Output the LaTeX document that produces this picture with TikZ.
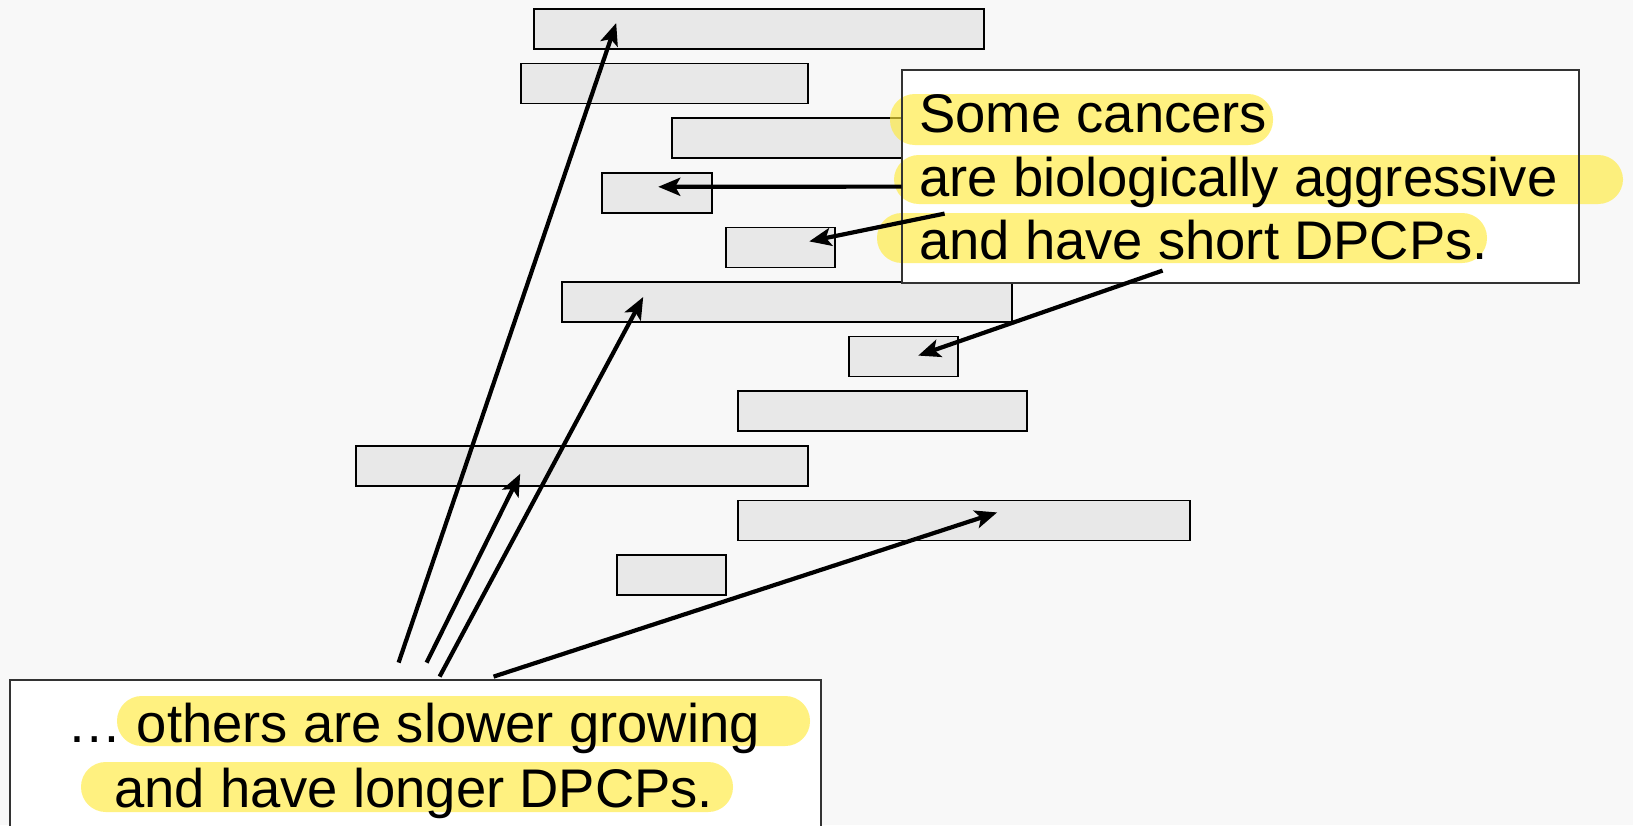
\documentclass[tikz,border=0pt]{standalone}
\usepackage{fontspec}
\setmainfont{Liberation Sans}
\usetikzlibrary{calc,arrows.meta}
\definecolor{bggray}{HTML}{F8F8F8}
\definecolor{barfill}{HTML}{E8E8E8}
\definecolor{hlyellow}{RGB}{255,235,60}
\newcommand\txtsize{\fontsize{27.2pt}{32pt}\selectfont}

\begin{document}
\begin{tikzpicture}[x=0.5pt, y=-0.5pt,
    bar/.style={draw, fill=barfill, line width=0.8pt, inner sep=0pt, minimum height=20pt},
    frame/.style={draw=black!80, line width=1pt},
    hl/.style={fill=hlyellow, opacity=0.65, rounded corners=12.4pt},
    txt/.style={font=\txtsize, anchor=base west, inner sep=0pt},
    arr/.style={-{Stealth[length=11pt, width=9pt, inset=2.5pt]}, line width=2.1pt}]
    \useasboundingbox (0,0) rectangle (1633,825);
    \clip (0,0) rectangle (1633,825);
    \fill[bggray] (0,0) rectangle (1633,825);

    \node[bar, minimum width=225pt] (b1) at (759, 29) {};
    \node[bar, minimum width=143.5pt] (b2) at (664.5, 83.6) {};
    \node[bar, minimum width=143.5pt] (b3) at (815.5, 138.2) {};
    \node[bar, minimum width=55pt] (b4) at (657, 192.8) {};
    \node[bar, minimum width=54.5pt] (b5) at (780.5, 247.4) {};
    \node[bar, minimum width=225pt] (b6) at (787, 302) {};
    \node[bar, minimum width=54.5pt] (b7) at (903.5, 356.6) {};
    \node[bar, minimum width=144.5pt] (b8) at (882.5, 411.2) {};
    \node[bar, minimum width=226pt] (b9) at (582, 465.8) {};
    \node[bar, minimum width=226pt] (b10) at (964, 520.4) {};
    \node[bar, minimum width=54.5pt] (b11) at (671.5, 575) {};

    \node[fill=white, minimum width=338.5pt, minimum height=106.5pt, inner sep=0pt] (short) at (1240.5, 176.5) {};
    \node[fill=white, minimum width=405.5pt, minimum height=90pt, inner sep=0pt] (long) at (415.5, 770) {};

    \fill[hl] (890, 94) rectangle (1273, 145);
    \fill[hl] (894, 155) rectangle (1623, 204);
    \fill[hl] (877, 213) rectangle (1487, 263);
    \fill[hl] (117, 696) rectangle (810, 746);
    \fill[hl] (81, 762) rectangle (733, 812);

    \draw[frame] (short.north west) rectangle (short.south east);
    \draw[frame] (long.north west) rectangle (long.south east);

    \node[txt] (s1) at (919, 132) {Some cancers};
    \node[txt] (s2) at (919, 196) {are biologically aggressive};
    \node[txt] (s3) at (919, 259) {and have short DPCPs.};
    \node[txt] (l1) at (67, 742) {… others are slower growing};
    \node[txt] (l2) at (114, 807) {and have longer DPCPs.};

    \draw[arr] ($(long.north west)+(389,-17)$) -- ($(b1.west)+(83,-6)$);
    \draw[arr] ($(long.north west)+(417,-17)$) -- ($(b9.west)+(165,8)$);
    \draw[arr] ($(long.north west)+(430,-3)$) -- ($(b6.west)+(82,-5)$);
    \draw[arr] ($(long.north west)+(484,-3)$) -- ($(b10.west)+(260,-8)$);
    \draw[arr] ($(short.north west)+(0,117)$) -- ($(b4.west)+(57,-6)$);
    \draw[arr] ($(short.north west)+(43,144)$) -- ($(b5.west)+(84,-6)$);
    \draw[arr] ($(short.north west)+(261,201)$) -- ($(b7.west)+(70,-1)$);
\end{tikzpicture}
\end{document}
